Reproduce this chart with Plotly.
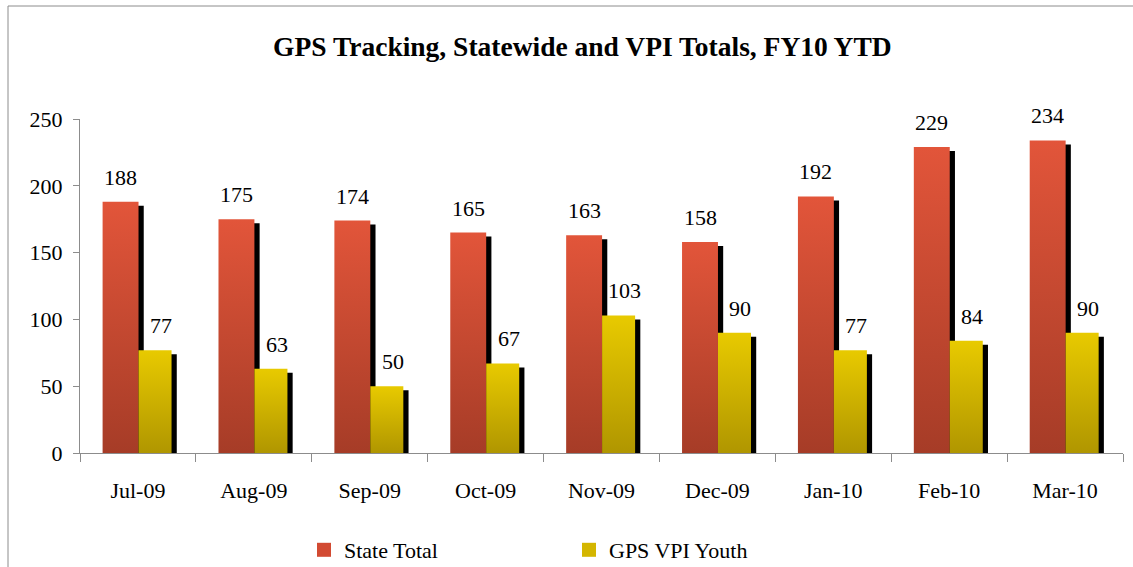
import plotly.graph_objects as go

categories = ["Jul-09", "Aug-09", "Sep-09", "Oct-09", "Nov-09", "Dec-09", "Jan-10", "Feb-10", "Mar-10"]
state_total = [188, 175, 174, 165, 163, 158, 192, 229, 234]
gps_vpi_youth = [77, 63, 50, 67, 103, 90, 77, 84, 90]
series_names = ["State Total", "GPS VPI Youth"]

FONT = "Liberation Serif, Times New Roman, serif"
RED_TOP, RED_BOT = "#E2553A", "#A63C27"
YEL_TOP, YEL_BOT = "#E8CA00", "#B09600"

W, H = 1133, 567
ML, MR, MT, MB = 80, 10, 119, 114
PW, PH = W - ML - MR, H - MT - MB

# bar geometry in category units
BAR_SPAN = {"red": (-0.305, 0.005), "yel": (0.005, 0.29)}
SH_DX = 0.045   # shadow offset right (category units)
SH_DY = 3.0     # shadow top lowered (value units)

fig = go.Figure()


def rect(x0, x1, y0, y1):
    return [x0, x1, x1, x0, x0], [y0, y0, y1, y1, y0]


def add_shadows(values, span):
    for i, v in enumerate(values):
        xs, ys = rect(i + span[0] + SH_DX, i + span[1] + SH_DX, 0, max(v - SH_DY, 0))
        fig.add_trace(go.Scatter(x=xs, y=ys, mode="none", fill="toself",
                                 fillcolor="black", showlegend=False, hoverinfo="skip"))


def add_fill(values, span, top, bot, name):
    for i, v in enumerate(values):
        xs, ys = rect(i + span[0], i + span[1], 0, v)
        fig.add_trace(go.Scatter(
            x=xs, y=ys, mode="none", fill="toself",
            fillgradient=dict(type="vertical", colorscale=[[0, bot], [1, top]], start=0, stop=v),
            showlegend=False, hoverinfo="skip", name=name))


add_shadows(state_total, BAR_SPAN["red"])
add_fill(state_total, BAR_SPAN["red"], RED_TOP, RED_BOT, series_names[0])
add_shadows(gps_vpi_youth, BAR_SPAN["yel"])
add_fill(gps_vpi_youth, BAR_SPAN["yel"], YEL_TOP, YEL_BOT, series_names[1])

# legend entries
for nm, col in zip(series_names, ["#D24A32", "#D4B600"]):
    fig.add_trace(go.Scatter(x=[None], y=[None], mode="markers", name=nm,
                             marker=dict(symbol="square", size=14, color=col)))

# data labels
for vals, span, dx in [(state_total, BAR_SPAN["red"], 0), (gps_vpi_youth, BAR_SPAN["yel"], 6)]:
    for i, v in enumerate(vals):
        fig.add_annotation(x=i + (span[0] + span[1]) / 2, y=v, text=str(v), showarrow=False,
                           yanchor="bottom", yshift=10, xshift=dx,
                           font=dict(family=FONT, size=22, color="black"))

n = len(categories)
fig.update_layout(
    width=W, height=H,
    margin=dict(l=ML, r=MR, t=MT, b=MB, autoexpand=False),
    paper_bgcolor="white", plot_bgcolor="white",
    font=dict(family=FONT, size=22, color="black"),
    title=dict(text="<b>GPS Tracking, Statewide and VPI Totals, FY10 YTD</b>",
               x=0.514, xanchor="center", y=1 - 46 / H, yanchor="middle", yref="container",
               font=dict(family=FONT, size=27.5, color="black")),
    showlegend=True,
    legend=dict(orientation="h", x=(304 - ML) / PW, xanchor="left", y=(MT + PH - 550) / PH,
                yanchor="middle", entrywidth=220, font=dict(family=FONT, size=22),
                bgcolor="rgba(0,0,0,0)"),
    xaxis=dict(range=[-0.5, n - 0.5], tickvals=list(range(n)), ticktext=categories,
               ticks="", showline=True, linecolor="#8C8C8C", linewidth=1,
               showgrid=False, zeroline=False, ticklabelstandoff=18, automargin=False,
               tickfont=dict(family=FONT, size=22)),
    xaxis2=dict(range=[-0.5, n - 0.5], overlaying="x", anchor="y", side="bottom",
                tickvals=[i - 0.5 for i in range(n + 1)], ticks="outside", ticklen=8,
                tickcolor="#8C8C8C", showticklabels=False, showgrid=False, zeroline=False,
                automargin=False),
    yaxis=dict(range=[0, 250], tickvals=[0, 50, 100, 150, 200, 250], ticks="outside",
               ticklen=6, tickcolor="#8C8C8C", showline=True, linecolor="#8C8C8C",
               showgrid=False, zeroline=False, ticklabelstandoff=6, automargin=False,
               tickfont=dict(family=FONT, size=22)),
)
fig.add_trace(go.Scatter(x=[None], y=[None], xaxis="x2", showlegend=False))

# outer chart border (top and left visible)
fig.add_shape(type="rect", xref="paper", yref="paper",
              x0=(8 - ML) / PW, x1=(W + 10 - ML) / PW,
              y0=(MT + PH - (H + 10)) / PH, y1=(MT + PH - 6) / PH,
              line=dict(color="#8C8C8C", width=1), layer="below")

fig.write_html("out.html", config={"displayModeBar": False},
               post_script="document.body.style.margin='0';document.body.style.overflow='hidden';")
